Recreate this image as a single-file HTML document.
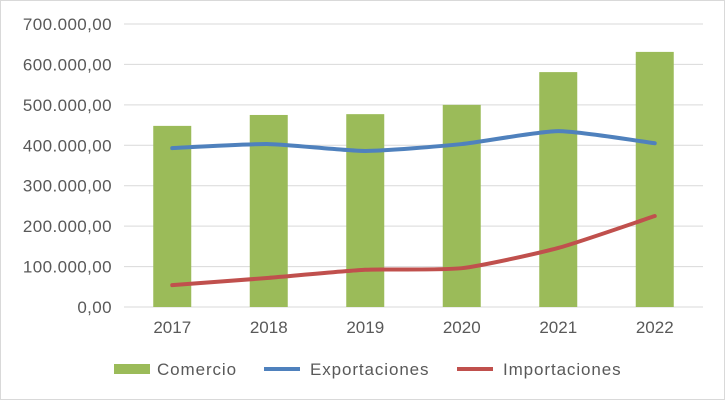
<!DOCTYPE html>
<html><head><meta charset="utf-8"><style>
body{margin:0;background:#fff;}
svg{display:block;font-family:"Liberation Sans",sans-serif;}
</style></head><body>
<svg id="chart" width="725" height="400">
<rect x="0.5" y="0.5" width="724" height="399" fill="#fff" stroke="#d9d9d9"/>
<g id="grid"></g><g id="bars"></g><g id="lines"></g><g id="labels"></g>
<g id="legend" font-size="17" letter-spacing="0.9">
<rect x="114" y="364" width="36" height="10" fill="#9bbb59"/>
<text x="157" y="375" fill="#595959">Comercio</text>
<line x1="264" y1="369" x2="300" y2="369" stroke="#4f81bd" stroke-width="4"/>
<text x="310" y="375" fill="#595959">Exportaciones</text>
<line x1="457" y1="369" x2="493" y2="369" stroke="#c0504d" stroke-width="4"/>
<text x="503" y="375" fill="#595959">Importaciones</text>
</g>
</svg>
<script>
const categories=["2017","2018","2019","2020","2021","2022"];
const comercio=[448000,475000,477000,500000,581000,631000];
const exportaciones=[393000,403000,386000,403000,435000,405000];
const importaciones=[54000,72000,92000,96000,146000,225000];
const yTicks=[0,100000,200000,300000,400000,500000,600000,700000];
const yTickLabels=["0,00","100.000,00","200.000,00","300.000,00","400.000,00","500.000,00","600.000,00","700.000,00"];
const NS="http://www.w3.org/2000/svg";
const x0=124,x1=703,y0=307,yTop=24,maxV=700000;
const step=(x1-x0)/categories.length;
const xs=i=>x0+step*(i+0.5);
const ys=v=>y0-(v/maxV)*(y0-yTop);
function mk(t,a,p){const e=document.createElementNS(NS,t);for(const k in a)e.setAttribute(k,a[k]);p.appendChild(e);return e;}
const grid=document.getElementById('grid'),bars=document.getElementById('bars'),lines=document.getElementById('lines'),labels=document.getElementById('labels');
yTicks.forEach((v,i)=>{
 const l=mk('line',{x1:x0,x2:x1,y1:ys(v),y2:ys(v),stroke:'#d9d9d9','stroke-width':1},grid);
 
 
 const t=mk('text',{x:112,y:ys(v)+6,'font-size':17,fill:'#595959','text-anchor':'end','letter-spacing':0.4},labels);
 t.textContent=yTickLabels[i];
 
 
});
categories.forEach((c,i)=>{
 const b=mk('rect',{x:xs(i)-19,y:ys(comercio[i]),width:38,height:y0-ys(comercio[i]),fill:'#9bbb59'},bars);
 
 
 const t=mk('text',{x:xs(i),y:333,'font-size':17,fill:'#595959','text-anchor':'middle'},labels);
 t.textContent=c;
 
 
});
function smooth(d){
 const P=d.map((v,i)=>[xs(i),ys(v)]);
 let s='M'+P[0][0]+','+P[0][1];
 for(let i=0;i<P.length-1;i++){
  const p0=P[Math.max(i-1,0)],p1=P[i],p2=P[i+1],p3=P[Math.min(i+2,P.length-1)];
  const c1=[p1[0]+(p2[0]-p0[0])/10,p1[1]+(p2[1]-p0[1])/10];
  const c2=[p2[0]-(p3[0]-p1[0])/10,p2[1]-(p3[1]-p1[1])/10];
  s+=' C'+c1.join(',')+' '+c2.join(',')+' '+p2.join(',');
 }
 return s;
}
[[exportaciones,'#4f81bd','line-exportaciones'],[importaciones,'#c0504d','line-importaciones']].forEach(([d,col,n])=>{
 const p=mk('path',{d:smooth(d),fill:'none',stroke:col,'stroke-width':4,'stroke-linecap':'round'},lines);
 
 
});
</script>
</body></html>
